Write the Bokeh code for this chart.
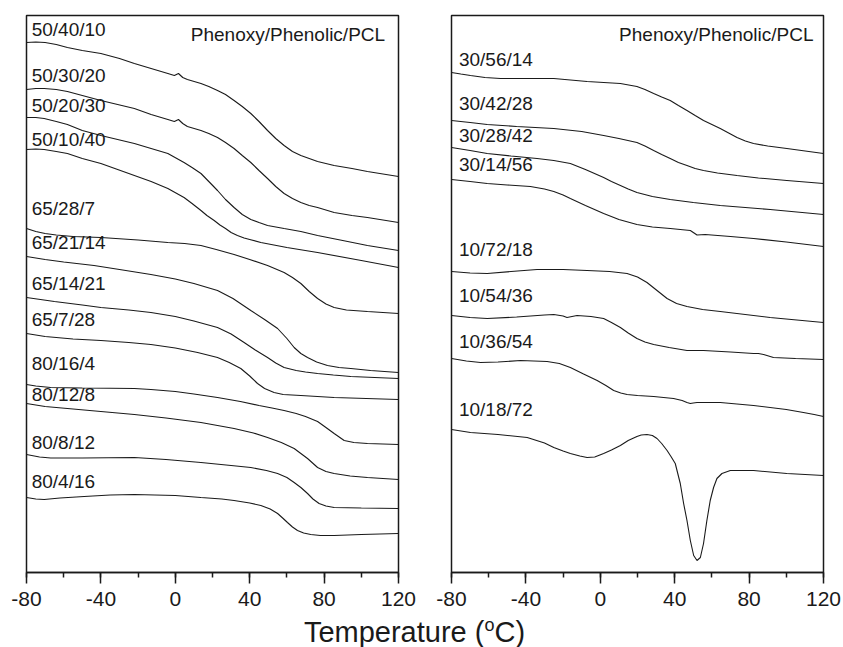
from bokeh.plotting import figure
from bokeh.layouts import row, column
from bokeh.models import Range1d, SingleIntervalTicker, Div
from bokeh.core.properties import value
from bokeh.embed import file_html
from bokeh.resources import INLINE

# ---------------- data (temperature in deg C, heat flow in arbitrary units) -------------
# Left panel: Phenoxy/Phenolic/PCL
T_50_40_10 = [-80, -75, -70, -64, -58, -50, -40, -30, -22, -13, -4, -0.5, 1.7, 4, 6.5, 13.8, 18, 22.7, 27,
              31.6, 36, 40.6, 45, 49.6, 54, 58.5, 63, 67.5, 72, 76.5, 85.4, 95, 103.3, 120]
H_50_40_10 = [530, 530.5, 530, 528, 525, 522, 519, 514, 509, 504, 499, 497, 499, 495, 493, 489, 486, 482, 478,
              472, 466, 459, 451, 442, 434, 427, 421, 417, 414, 411, 407, 404, 401, 396]

T_50_30_20 = [-80, -75, -70.5, -64, -58, -50, -40, -31, -22, -13, -4, -0.5, 1.7, 4, 6.5, 13.8, 18, 22.7, 27,
              31.6, 36, 40.6, 45, 49.6, 54, 58.5, 63, 67.5, 72, 76.5, 85.4, 95, 103.3, 120]
H_50_30_20 = [483, 484, 484, 483, 481, 477, 472, 468, 464, 458, 453, 451, 453, 449, 446, 442, 439, 435, 430,
              424, 417, 410, 402, 394, 386, 379, 374, 370, 367, 365, 360, 357, 355, 350]

T_50_20_30 = [-80, -75, -70.5, -64, -58, -50, -40, -31, -22, -13, -4, 4.7, 9, 13.8, 18, 22.7, 27, 31.6, 36,
              40.6, 45, 49.6, 58.5, 67.5, 76.5, 90, 103.3, 120]
H_50_20_30 = [455, 455, 454, 451, 448, 442, 437, 433, 429, 424, 419, 410, 405, 399, 391, 382, 373, 365, 358,
              353, 350, 347, 344, 341, 337, 332, 327, 322]

T_50_10_40 = [-80, -75, -70.5, -64, -58, -50, -40, -31, -22, -13, -4, 4.7, 9, 13.8, 17, 20.9, 24, 27, 30,
              33.4, 37, 40, 46, 53, 60, 76.5, 100, 120]
H_50_10_40 = [423, 423.5, 423, 421, 419, 414, 409, 403, 397, 391, 384, 375, 369, 362, 357, 352, 347.5, 344, 340,
              337, 334.5, 333, 330, 327.5, 325, 320, 312, 305]

T_65_28_7 = [-80, -75, -70, -64, -55, -40, -20, -4, 5, 13.8, 22, 31.6, 40, 49.6, 58.5, 63, 67.5, 72, 76.5,
             81, 85.4, 92, 103.3, 120]
H_65_28_7 = [344, 341, 339, 337.5, 336, 335, 332.5, 330, 329, 327, 323, 318, 313, 307, 300, 295, 289, 281, 274,
             268.5, 265, 262.5, 261, 259]

T_65_21_14 = [-80, -70, -60, -43.7, -30, -13.1, 0, 10, 22.7, 31, 40.6, 48, 55, 60, 63.9, 67.5, 71.1, 76,
              81.8, 88, 94.4, 105, 120]
H_65_21_14 = [316, 313, 310.5, 307, 303, 298, 293.5, 289, 282, 274, 262, 253, 244, 234, 225, 219, 215, 210.5,
              207, 205, 204, 202, 200]

T_65_14_21 = [-80, -65, -50, -40, -25, -13.1, 0, 10, 22.7, 30, 37, 43, 49.6, 54, 58.5, 65, 70, 76.5, 85,
              94.4, 120]
H_65_14_21 = [275, 271, 267.5, 265, 262.5, 260, 256, 251.5, 245, 238.5, 230, 222.5, 215, 209.5, 205, 202, 200.5,
              199, 197.5, 196, 194]

T_65_7_28 = [-80, -70, -55, -40, -25, -13.1, 0, 12, 22.7, 29, 35.2, 40, 44.2, 48, 53.1, 58, 67.5, 85.4, 120]
H_65_7_28 = [239, 236, 233.5, 232, 230, 228, 224.5, 220, 215, 210, 204, 196.5, 189, 184, 180, 178, 177, 175, 173]

T_80_16_4 = [-80, -75, -67, -50, -35, -22, -13.1, 0, 10, 22.7, 35, 45, 52, 58.5, 65, 70, 76.5, 81, 85.4,
             90.8, 96, 103.3, 120]
H_80_16_4 = [188, 186.5, 185, 184.5, 184.3, 184, 183, 181, 178.5, 175, 171, 167, 164.5, 162, 159, 156, 151, 145,
             139, 132, 130, 129, 128]

T_80_12_8 = [-80, -70, -58, -40, -22, -5, 13.8, 31.6, 42, 49.6, 57, 63.9, 67.5, 71.1, 76.5, 81, 85.4, 94,
             103.3, 120]
H_80_12_8 = [169, 166, 164, 161, 158, 154.5, 150, 144, 139.5, 135, 130, 124, 119, 114, 105, 101, 99, 96.5,
             95, 93]

T_80_8_12 = [-80, -73, -67, -50, -22, -5, 13.8, 30, 40.6, 49, 55, 60, 63.9, 67.5, 71.1, 74, 77.3, 81, 85.4,
             100, 120]
H_80_8_12 = [118, 115.5, 114.5, 114.5, 115, 113, 110, 107, 105, 102, 99, 95, 90, 85, 79, 73.5, 69, 66.5, 65,
             64.5, 64]

T_80_4_16 = [-80, -75, -70.5, -62, -49, -35, -22, 0, 13.8, 25, 31.6, 40, 46, 51, 55, 58, 60.3, 63, 65.7,
             69, 72.8, 78, 85.4, 100, 120]
H_80_4_16 = [75, 73.5, 73, 74.5, 76, 77.5, 78, 77, 75, 73.5, 72, 69.5, 67, 63.5, 59, 54, 50, 45.5, 42,
             39.5, 38, 37, 37, 38, 39]

# Right panel
T_30_56_14 = [-80, -75, -69.8, -62, -53.7, -40, -25, -7.1, 10.8, 19.7, 24, 28.7, 33, 37.6, 42, 46.6, 51,
              55.5, 60, 64.5, 69, 73.5, 78, 82.4, 90, 100.3, 120]
H_30_56_14 = [500, 498.5, 497, 495, 494, 494, 494, 491, 489, 486, 483, 479, 475.5, 472, 467, 462, 457,
              452, 448, 444, 439.5, 435, 431.5, 429, 426.5, 424, 419]

T_30_42_28 = [-80, -70, -60.8, -45, -25, -10, 1.8, 10, 19.7, 24, 28.7, 33, 37.6, 42, 46.6, 51, 55.5, 63,
              73.5, 85, 100.3, 120]
H_30_42_28 = [452, 450, 448, 446, 444, 441, 437, 434, 430, 426.5, 422, 418, 414, 410, 407, 404, 402, 399.5,
              397, 394.5, 392, 389]

T_30_28_42 = [-80, -70, -60.8, -48, -34, -25, -16.1, -8, 1.8, 6, 10.8, 15, 19.7, 28, 37.6, 50, 64.5, 91.3, 120]
H_30_28_42 = [425, 422, 419, 416.5, 414, 412, 409, 403, 395, 391, 387, 383.5, 380, 376, 373, 370, 367, 363, 358]

T_30_14_56 = [-80, -70, -60.8, -50, -37.6, -30, -25, -20, -16.1, -8, 1.8, 10, 19.7, 28, 37.6, 48.4, 50, 52,
              56.4, 70, 82.4, 100, 120]
H_30_14_56 = [393, 391, 389, 387.5, 386, 383.5, 381, 377.5, 374, 367, 359, 353, 348, 345.5, 344, 342, 340, 337.5,
              338, 336, 334, 330.5, 326]

T_10_72_18 = [-80, -70, -60.8, -48, -34, -20, -7.1, 5, 14.4, 20, 25.1, 30.5, 35.9, 41, 46.6, 55, 64.5, 91.3, 120]
H_10_72_18 = [301, 299.5, 299, 301, 303, 303, 302, 301, 299, 295.5, 290, 282, 274, 269, 266, 263, 261, 255, 250]

T_10_54_36 = [-80, -70, -60.8, -45, -30, -25, -20, -17.9, -12.5, -5, 1.8, 6, 10.8, 15, 19.7, 24, 28.7, 37,
              46.6, 55.5, 70, 82.4, 85, 87.8, 93.1, 105, 120]
H_10_54_36 = [257, 255, 254, 255.5, 257.5, 258, 256.5, 255, 257, 256, 254, 250, 245, 239.5, 234, 230.5, 228, 225,
              222, 222, 220.5, 219, 219, 218, 215, 214, 213]

T_10_36_54 = [-80, -72, -64.4, -55, -42.9, -28.6, -22, -16.1, -9, -1.7, 3, 7.2, 11, 14.4, 20, 28.7, 39.4, 44,
              46.6, 48.4, 50, 52, 64.5, 82.4, 100, 109.2, 115, 120]
H_10_36_54 = [214, 211.5, 210, 210.5, 212, 211, 209, 205, 198.5, 192, 187, 182, 179.5, 178, 177, 176, 174, 172,
              170, 169, 169.5, 170, 170, 167, 163, 160, 158, 156]

T_10_18_72 = [-80, -69.8, -55, -39.3, -30, -25, -20, -16.1, -11, -7.1, -3, 1.8, 6, 10.8, 15, 19.7, 22, 25.1,
              28, 30.5, 33, 35.9, 38, 40.3, 43, 44.8, 46.6, 48.4, 50.2, 52, 53.8, 55.5, 57.3, 59.1, 60.9,
              62.7, 65.4, 69.9, 82.4, 100.3, 120]
H_10_18_72 = [143, 140, 138, 135, 129.5, 125, 121.5, 119, 116.5, 115, 115.5, 119, 122.5, 127, 132, 136, 137.5, 138,
              137, 134, 129, 122, 116, 109, 89, 69, 52, 32, 17, 12, 15, 29, 52, 72, 85,
              94, 99, 102, 102, 99, 97]

LEFT_LABELS = ["50/40/10", "50/30/20", "50/20/30", "50/10/40", "65/28/7", "65/21/14",
               "65/14/21", "65/7/28", "80/16/4", "80/12/8", "80/8/12", "80/4/16"]
LEFT_LABEL_H = [542.7, 497.3, 467, 432.7, 363.7, 329.7, 289.3, 253, 208.7, 178, 129.7, 91.3]

RIGHT_LABELS = ["30/56/14", "30/42/28", "30/28/42", "30/14/56",
                "10/72/18", "10/54/36", "10/36/54", "10/18/72"]
RIGHT_LABEL_H = [512.8, 469.5, 436.7, 408.3, 323.5, 276.8, 230.8, 163.2]

TICK_TEXT = {-80: "-80", -40: "-40", 0: "0", 40: "40", 80: "80", 120: "120"}
PANEL_TITLE = "Phenoxy/Phenolic/PCL"
X_LABEL_HTML = ("Temperature (<span style='font-size:18px; position:relative; top:-11px;'>o</span>C)")

LEFT_CURVES = [(T_50_40_10, H_50_40_10), (T_50_30_20, H_50_30_20), (T_50_20_30, H_50_20_30),
               (T_50_10_40, H_50_10_40), (T_65_28_7, H_65_28_7), (T_65_21_14, H_65_21_14),
               (T_65_14_21, H_65_14_21), (T_65_7_28, H_65_7_28), (T_80_16_4, H_80_16_4),
               (T_80_12_8, H_80_12_8), (T_80_8_12, H_80_8_12), (T_80_4_16, H_80_4_16)]
RIGHT_CURVES = [(T_30_56_14, H_30_56_14), (T_30_42_28, H_30_42_28), (T_30_28_42, H_30_28_42),
                (T_30_14_56, H_30_14_56), (T_10_72_18, H_10_72_18), (T_10_54_36, H_10_54_36),
                (T_10_36_54, H_10_36_54), (T_10_18_72, H_10_18_72)]

FONT = "Liberation Sans"
INK = "#1a1a1a"


def make_panel(width, bl, br, curves, labels, label_h, label_x, title_x):
    p = figure(width=width, height=615, x_range=Range1d(-80, 120), y_range=Range1d(0, 557),
               output_backend="svg", toolbar_location=None, y_axis_location=None,
               min_border_left=bl, min_border_right=br, min_border_top=15, min_border_bottom=43)
    p.xgrid.visible = False
    p.ygrid.visible = False
    p.background_fill_color = "white"
    p.border_fill_color = "white"
    p.outline_line_color = INK
    p.outline_line_width = 1.5
    p.outline_line_alpha = 1.0
    ax = p.xaxis[0]
    ax.ticker = SingleIntervalTicker(interval=40, num_minor_ticks=2)
    ax.major_label_overrides = TICK_TEXT
    ax.axis_line_width = 1.5
    ax.axis_line_color = INK
    ax.major_tick_line_width = 1.5
    ax.major_tick_line_color = INK
    ax.minor_tick_line_width = 1.5
    ax.minor_tick_line_color = INK
    ax.major_tick_out = 11
    ax.major_tick_in = 0
    ax.minor_tick_out = 5
    ax.minor_tick_in = 0
    ax.major_label_text_font = FONT
    ax.major_label_text_font_size = "21px"
    ax.major_label_text_color = INK
    ax.major_label_standoff = 8
    for t, h in curves:
        p.line(t, h, line_color=INK, line_width=1.1)
    p.text(x=[label_x] * len(labels), y=label_h, text=labels,
           text_font=value(FONT), text_font_size=value("19px"), text_color=INK,
           text_align="left", text_baseline="middle")
    p.text(x=[title_x], y=[538], text=[PANEL_TITLE],
           text_font=value(FONT), text_font_size=value("19px"), text_color=INK,
           text_align="right", text_baseline="middle")
    return p


p1 = make_panel(426, 26, 28, LEFT_CURVES, LEFT_LABELS, LEFT_LABEL_H, -77.2, 112.8)
p2 = make_panel(417, 25, 20, RIGHT_CURVES, RIGHT_LABELS, RIGHT_LABEL_H, -76, 114.6)

xlabel = Div(text=("<div style=\"font-family:'Liberation Sans', Arial, sans-serif; font-size:29px; "
                   "line-height:29px; color:#1a1a1a; text-align:center; width:829px; "
                   "position:relative; top:3px; white-space:nowrap;\">"
                   + X_LABEL_HTML + "</div>"),
             width=843, height=32, margin=(0, 0, 0, 0))

layout = column(row(p1, p2, spacing=0), xlabel, spacing=0)

open("out.html", "w").write(file_html(layout, INLINE))
